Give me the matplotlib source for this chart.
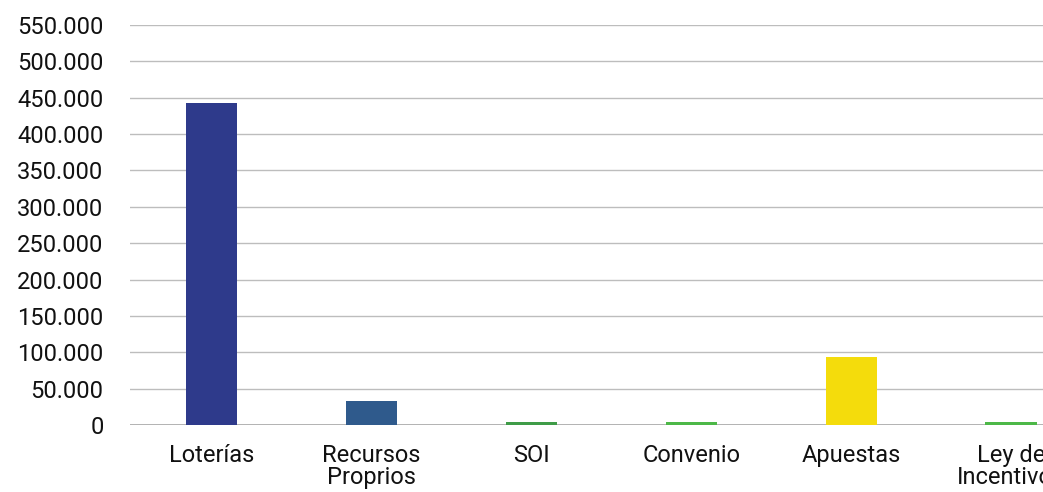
import matplotlib.pyplot as plt
from matplotlib.ticker import FuncFormatter, MultipleLocator

plt.rcParams['font.family'] = ['Roboto', 'DejaVu Sans']

# data
categories = ['Loterías', 'Recursos\nProprios', 'SOI', 'Convenio', 'Apuestas', 'Ley de\nIncentivos']
values = [443000, 33000, 4000, 4000, 93500, 4000]
colors = ['#2E3A8B', '#2F5A8C', '#3F9C48', '#4DB848', '#F4DC0C', '#4DB848']

fig = plt.figure(figsize=(10.43, 4.92), dpi=100)
ax = fig.add_axes([130 / 1043, 67 / 492, 1 - 130 / 1043, 400 / 492])

x = range(len(categories))
ax.bar(x, values, width=0.32, color=colors, zorder=3)

ax.set_ylim(0, 550000)
ax.set_xlim(-0.51, 5.2)
ax.yaxis.set_major_locator(MultipleLocator(50000))
ax.yaxis.set_major_formatter(FuncFormatter(lambda v, p: f'{v:,.0f}'.replace(',', '.')))
ax.grid(axis='y', color='#BDBDBD', linewidth=1.0, zorder=0)
ax.set_xticks(list(x))
ax.set_xticklabels(categories, linespacing=0.9)

for s in ax.spines.values():
    s.set_visible(False)
ax.axhline(0, color='#A8A8A8', linewidth=1.2, zorder=2)

ax.tick_params(axis='y', length=0, pad=19, labelsize=17, labelcolor='#111111')
ax.tick_params(axis='x', length=0, pad=14, labelsize=17, labelcolor='#111111')

fig.savefig('out.png', dpi=100)
